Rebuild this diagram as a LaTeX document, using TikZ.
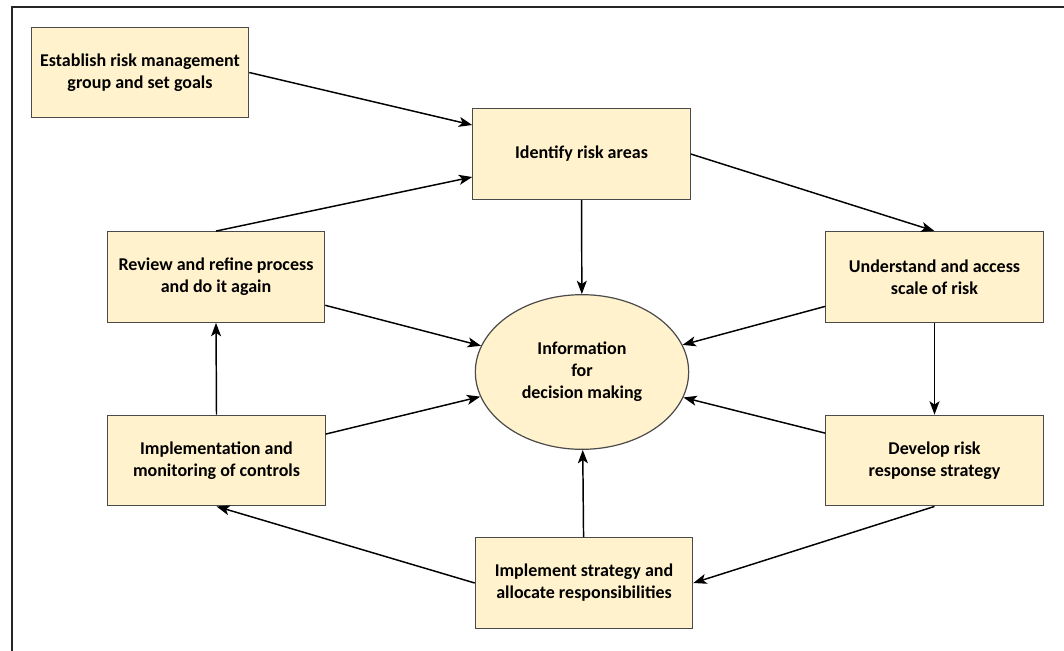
\documentclass[tikz,border=0pt]{standalone}
\usepackage{fontspec}
\setmainfont{Carlito}
\usetikzlibrary{shapes.geometric,arrows.meta}

\definecolor{boxfill}{HTML}{FFF2CC}
\definecolor{boxline}{HTML}{4A4A4A}

\tikzset{
  stepbox/.style={draw=boxline, fill=boxfill, line width=0.9pt, align=center,
    minimum width=163pt, minimum height=68pt, inner sep=0pt,
    font=\fontsize{13.5}{16.5}\selectfont\bfseries},
  infobox/.style={stepbox, ellipse, minimum width=160pt, minimum height=116pt},
  flow/.style={line width=1.1pt, -{Stealth[length=10pt,width=7.5pt,inset=2.5pt]}}
}

\begin{document}
\begin{tikzpicture}[x=0.75pt,y=-0.75pt]
  \useasboundingbox (0,0) rectangle (1064,650);
  \draw[line width=1.6pt, black!85] (12,652) -- (12,7) -- (1066,7);

  \node[stepbox] (establish) at (140,72.5) {Establish risk management\\group and set goals};
  \node[stepbox] (identify) at (581.5,154) {Identify risk areas};
  \node[stepbox] (review) at (216,277) {Review and refine process\\and do it again};
  \node[stepbox] (understand) at (934.5,277) {Understand and access\\scale of risk};
  \node[stepbox] (monitor) at (216.5,460.5) {Implementation and\\monitoring of controls};
  \node[stepbox] (develop) at (934.5,460.5) {Develop risk\\response strategy};
  \node[stepbox] (allocate) at (584,583) {Implement strategy and\\allocate responsibilities};
  \node[infobox] (info) at (582,372) {Information\\for\\decision making};

  % the loop round the centre
  \draw[flow] (establish.east) -- ([yshift=21.75pt]identify.west);
  \draw[flow] (identify.east) -- (understand.north);
  \draw[flow] (understand.south) -- (develop.north);
  \draw[flow] (develop.south) -- (allocate.east);
  \draw[flow] (allocate.west) -- (monitor.south);
  \draw[flow] (monitor.north) -- (review.south);
  \draw[flow] (review.north) -- ([yshift=-17.25pt]identify.west);

  % everything feeds the decision
  \foreach \n in {identify,understand,develop,allocate,monitor,review}
    \draw[flow] (\n) -- (info);

\end{tikzpicture}
\end{document}
